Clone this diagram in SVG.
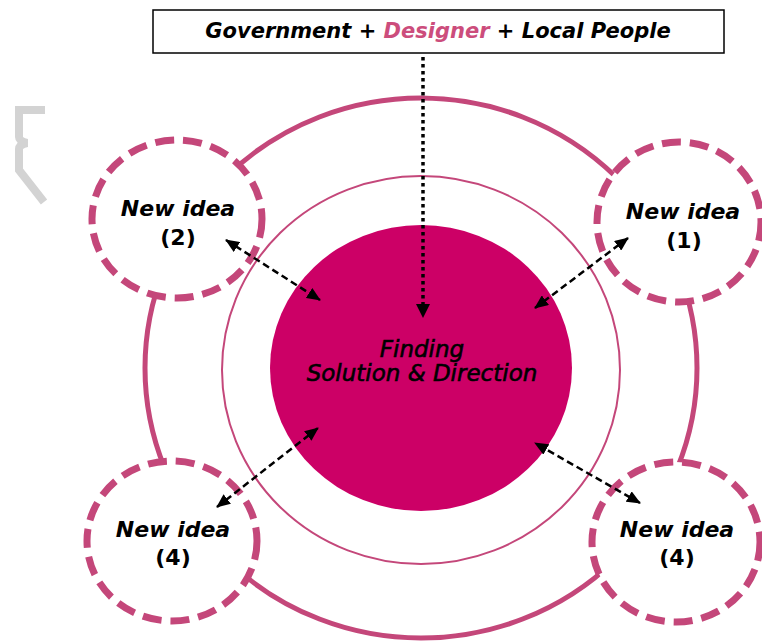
<svg xmlns="http://www.w3.org/2000/svg" width="762" height="641" viewBox="0 0 762 641">
  <style>
    .ring { fill: none; stroke: #c4477a; }
    .idea { fill: #ffffff; stroke: #c4477a; stroke-width: 7; stroke-dasharray: 19 9; }
    .lbl { font-family: "DejaVu Sans", "Liberation Sans", sans-serif; font-size: 22px; font-weight: bold; fill: #000000; text-anchor: middle; }
    .it { font-style: italic; }
    .conn { fill: none; stroke: #000000; stroke-width: 2.5; stroke-dasharray: 7 4; }
  </style>
  <defs>
    <marker id="ah" markerWidth="14" markerHeight="12" refX="13" refY="6" orient="auto-start-reverse" markerUnits="userSpaceOnUse">
      <path d="M0,0 L14,6 L0,12 Z" fill="#000000"/>
    </marker>
  </defs>
  <rect width="762" height="641" fill="#ffffff"/>

  <g id="bracket">
    <path d="M45,110 H19 V137 Q19,141 27,143 Q19,145 19,149 V170 L44,202" fill="none" stroke="#d3d3d3" stroke-width="8"/>
  </g>

  <g id="outer-ring">
    <ellipse class="ring" cx="421" cy="368" rx="276" ry="270" stroke-width="5"/>
  </g>
  <g id="inner-ring">
    <ellipse class="ring" cx="421" cy="370" rx="199" ry="194" stroke-width="2"/>
  </g>

  <g id="center">
    <ellipse cx="421" cy="368" rx="151" ry="143" fill="#cc0066"/>
    <text class="lbl it" x="422" y="357" style="font-size:23px;font-weight:normal" stroke="#000" stroke-width="0.6">Finding</text>
    <text class="lbl it" x="422" y="381" style="font-size:23px;font-weight:normal" stroke="#000" stroke-width="0.6">Solution &amp; Direction</text>
  </g>

  <g id="idea2">
    <ellipse class="idea" cx="177" cy="219" rx="85" ry="79"/>
    <text class="lbl it" x="178" y="216">New idea</text>
    <text class="lbl" x="178" y="245">(2)</text>
  </g>
  <g id="idea1">
    <ellipse class="idea" cx="679" cy="222" rx="82" ry="80"/>
    <text class="lbl it" x="683" y="219">New idea</text>
    <text class="lbl" x="684" y="248">(1)</text>
  </g>
  <g id="idea4a">
    <ellipse class="idea" cx="172" cy="541" rx="85" ry="80"/>
    <text class="lbl it" x="173" y="537">New idea</text>
    <text class="lbl" x="173" y="565">(4)</text>
  </g>
  <g id="idea4b">
    <ellipse class="idea" cx="676" cy="542" rx="84" ry="80"/>
    <text class="lbl it" x="677" y="537">New idea</text>
    <text class="lbl" x="677" y="565">(4)</text>
  </g>

  <g id="header">
    <rect x="153" y="10" width="571" height="43" fill="#ffffff" stroke="#000000" stroke-width="1.5"/>
    <text class="lbl it" x="438" y="38" style="font-size:21px;font-weight:bold"><tspan>Government + </tspan><tspan fill="#cc4d7c">Designer</tspan><tspan> + Local People</tspan></text>
  </g>

  <g id="connectors">
    <line x1="423" y1="57" x2="423" y2="305" stroke="#000000" stroke-width="3.5" stroke-dasharray="3.5 3.5"/>
    <path d="M416,304 L430,304 L423,318 Z" fill="#000000"/>
    <line class="conn" x1="226" y1="240" x2="320" y2="300" marker-start="url(#ah)" marker-end="url(#ah)"/>
    <line class="conn" x1="628" y1="238" x2="535" y2="308" marker-start="url(#ah)" marker-end="url(#ah)"/>
    <line class="conn" x1="217" y1="507" x2="318" y2="428" marker-start="url(#ah)" marker-end="url(#ah)"/>
    <line class="conn" x1="640" y1="503" x2="535" y2="443" marker-start="url(#ah)" marker-end="url(#ah)"/>
  </g>
</svg>
